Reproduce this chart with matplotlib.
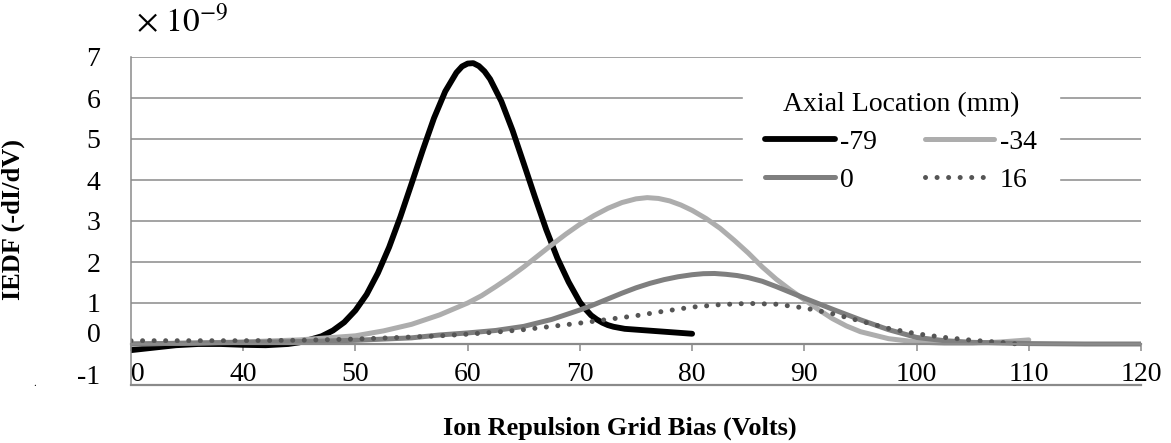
import matplotlib
matplotlib.use('Agg')
import matplotlib.pyplot as plt
import matplotlib.transforms as mtransforms

# IEDF curves at each axial location (bias in V, IEDF in units of 1e-9)
bias_m79 = [30, 32, 34, 36, 38, 40, 42, 44, 45, 46, 47, 48, 49, 50, 51, 52, 53, 54, 55,
            56, 57, 58, 59, 59.5, 60, 60.5, 61, 61.5, 62, 63, 64, 65, 66, 67, 68, 69, 70,
            70.5, 71, 71.5, 72, 72.5, 73, 74, 76, 78, 80]
iedf_m79 = [-0.15, -0.09, -0.03, 0.0, 0.0, -0.02, -0.03, 0.0, 0.04, 0.11, 0.19, 0.33, 0.53,
            0.82, 1.21, 1.73, 2.36, 3.10, 3.91, 4.73, 5.51, 6.16, 6.62, 6.77, 6.84, 6.85,
            6.78, 6.65, 6.46, 5.92, 5.21, 4.40, 3.58, 2.79, 2.09, 1.51, 1.02, 0.85, 0.70,
            0.60, 0.52, 0.46, 0.42, 0.37, 0.33, 0.29, 0.25]

bias_m34 = [30, 35, 40, 45, 50, 52.5, 55, 57.5, 60, 61.25, 62.5, 63.75, 65, 66.25, 67.5,
            68.75, 70, 71.25, 72.5, 73.75, 75, 76, 77, 78, 79, 80, 81.25, 82.5, 83.75, 85,
            86.25, 87.5, 88.75, 90, 91.25, 92.5, 93.75, 95, 97.5, 100, 102.5, 105, 107.5,
            110]
iedf_m34 = [0.0, 0.02, 0.05, 0.1, 0.2, 0.32, 0.48, 0.71, 1.0, 1.18, 1.4, 1.63, 1.88, 2.15,
            2.42, 2.68, 2.92, 3.13, 3.31, 3.45, 3.54, 3.57, 3.55, 3.49, 3.39, 3.26, 3.06,
            2.82, 2.53, 2.22, 1.88, 1.58, 1.32, 1.08, 0.84, 0.62, 0.44, 0.3, 0.13, 0.05,
            0.02, 0.02, 0.05, 0.1]

bias_0 = [30, 35, 40, 45, 50, 55, 57.5, 60, 62.5, 65, 67.5, 70, 71.25, 72.5, 73.75, 75,
          76.25, 77.5, 78.75, 80, 81, 82, 83, 84, 85, 86.25, 87.5, 88.75, 90, 92.5, 95,
          97.5, 100, 102.5, 105, 110, 115, 120]
iedf_0 = [0.0, 0.02, 0.04, 0.06, 0.09, 0.15, 0.22, 0.27, 0.33, 0.43, 0.6, 0.83, 0.96, 1.1,
          1.24, 1.37, 1.48, 1.57, 1.64, 1.69, 1.715, 1.72, 1.70, 1.67, 1.62, 1.53, 1.40,
          1.26, 1.12, 0.85, 0.59, 0.35, 0.16, 0.08, 0.04, 0.01, 0.0, 0.0]

bias_16 = [30, 35, 40, 45, 50, 55, 57.5, 60, 62.5, 65, 67.5, 70, 72.5, 75, 77.5, 80, 82.5,
           85, 87.5, 90, 92.5, 95, 97.5, 100, 102.5, 105, 107.5, 109]
iedf_16 = [0.08, 0.08, 0.08, 0.09, 0.12, 0.17, 0.2, 0.24, 0.29, 0.35, 0.43, 0.51, 0.6, 0.69,
           0.8, 0.9, 0.96, 0.99, 0.97, 0.88, 0.74, 0.56, 0.38, 0.25, 0.16, 0.09, 0.04, 0.0]

xticks = [30, 40, 50, 60, 70, 80, 90, 100, 110, 120]
yticks = [-1, 0, 1, 2, 3, 4, 5, 6, 7]

plt.rcParams['font.family'] = ['Liberation Serif', 'DejaVu Serif']
plt.rcParams['mathtext.fontset'] = 'stix'

gridcol = '#8a8a8a'

fig = plt.figure(figsize=(11.71, 4.43), dpi=100)
ax = fig.add_axes([131 / 1171, 1 - 385 / 443, 1010 / 1171, 328 / 443])

ax.set_xlim(30, 120)
ax.set_ylim(-1, 7)
ax.set_xticks(xticks)
ax.set_yticks(yticks)
ax.set_yticklabels([str(v) for v in yticks])
ax.grid(axis='y', color=gridcol, lw=1.1)
ax.set_axisbelow(True)

# category axis crosses at zero, labels drawn just above the bottom line
ax.spines['bottom'].set_position(('data', 0))
ax.spines['bottom'].set_color(gridcol)
ax.spines['bottom'].set_linewidth(1.6)
ax.spines['left'].set_color(gridcol)
ax.spines['left'].set_linewidth(1.1)
ax.spines['top'].set_visible(False)
ax.spines['right'].set_visible(False)
ax.axhline(-1, color=gridcol, lw=1.6, clip_on=False)

ax.tick_params(axis='x', direction='out', length=5, width=1.1, color=gridcol,
               labelsize=20, pad=8)
ax.tick_params(axis='y', length=0, labelsize=20, pad=22)

ln79, = ax.plot(bias_m79, iedf_m79, color='black', lw=4.2, solid_capstyle='round',
                solid_joinstyle='round')
ln34, = ax.plot(bias_m34, iedf_m34, color='#adadad', lw=3.6, solid_capstyle='round',
                solid_joinstyle='round')
ln0, = ax.plot(bias_0, iedf_0, color='#7f7f7f', lw=3.6, solid_capstyle='round',
               solid_joinstyle='round')
ln16, = ax.plot(bias_16, iedf_16, color='#555555', lw=3.6, linestyle=(0, (0.01, 2.3)),
                dash_capstyle='round')

leg = ax.legend([ln79, ln0, ln34, ln16], ['-79', '0', '-34', '16'], ncol=2,
                title='Axial Location (mm)', title_fontsize=20, fontsize=20,
                loc='upper left', bbox_to_anchor=(0.606, 0.96), borderaxespad=0,
                frameon=True, fancybox=False, framealpha=1, edgecolor='white',
                facecolor='white', handlelength=2.5, handletextpad=0.2,
                columnspacing=1.7, labelspacing=0.44, borderpad=0.8)

ax.set_xlabel('Ion Repulsion Grid Bias (Volts)', fontsize=19, fontweight='bold')
ax.xaxis.set_label_coords(0.484, -0.095)
ax.set_ylabel('IEDF (-dI/dV)', fontsize=19, fontweight='bold')
ax.yaxis.set_label_coords(-0.105, 0.506)

# first category label is cut by the plot area edge
xlabels = ax.get_xticklabels()
xlabels[0].set_clip_box(ax.bbox)
xlabels[0].set_clip_on(True)

# the two lowest value labels sit a little higher
lift = mtransforms.ScaledTranslation(0, 11 / 100, fig.dpi_scale_trans)
for lab in ax.get_yticklabels()[:2]:
    lab.set_transform(lab.get_transform() + lift)

fig.text(136 / 1171, 1 - 22 / 443, r'$\times\ 10^{-9}$', fontsize=24, va='center',
         ha='left')
fig.text(35 / 1171, 1 - 384 / 443, '.', fontsize=8, ha='center', va='center')

fig.savefig('out.png', dpi=100)
